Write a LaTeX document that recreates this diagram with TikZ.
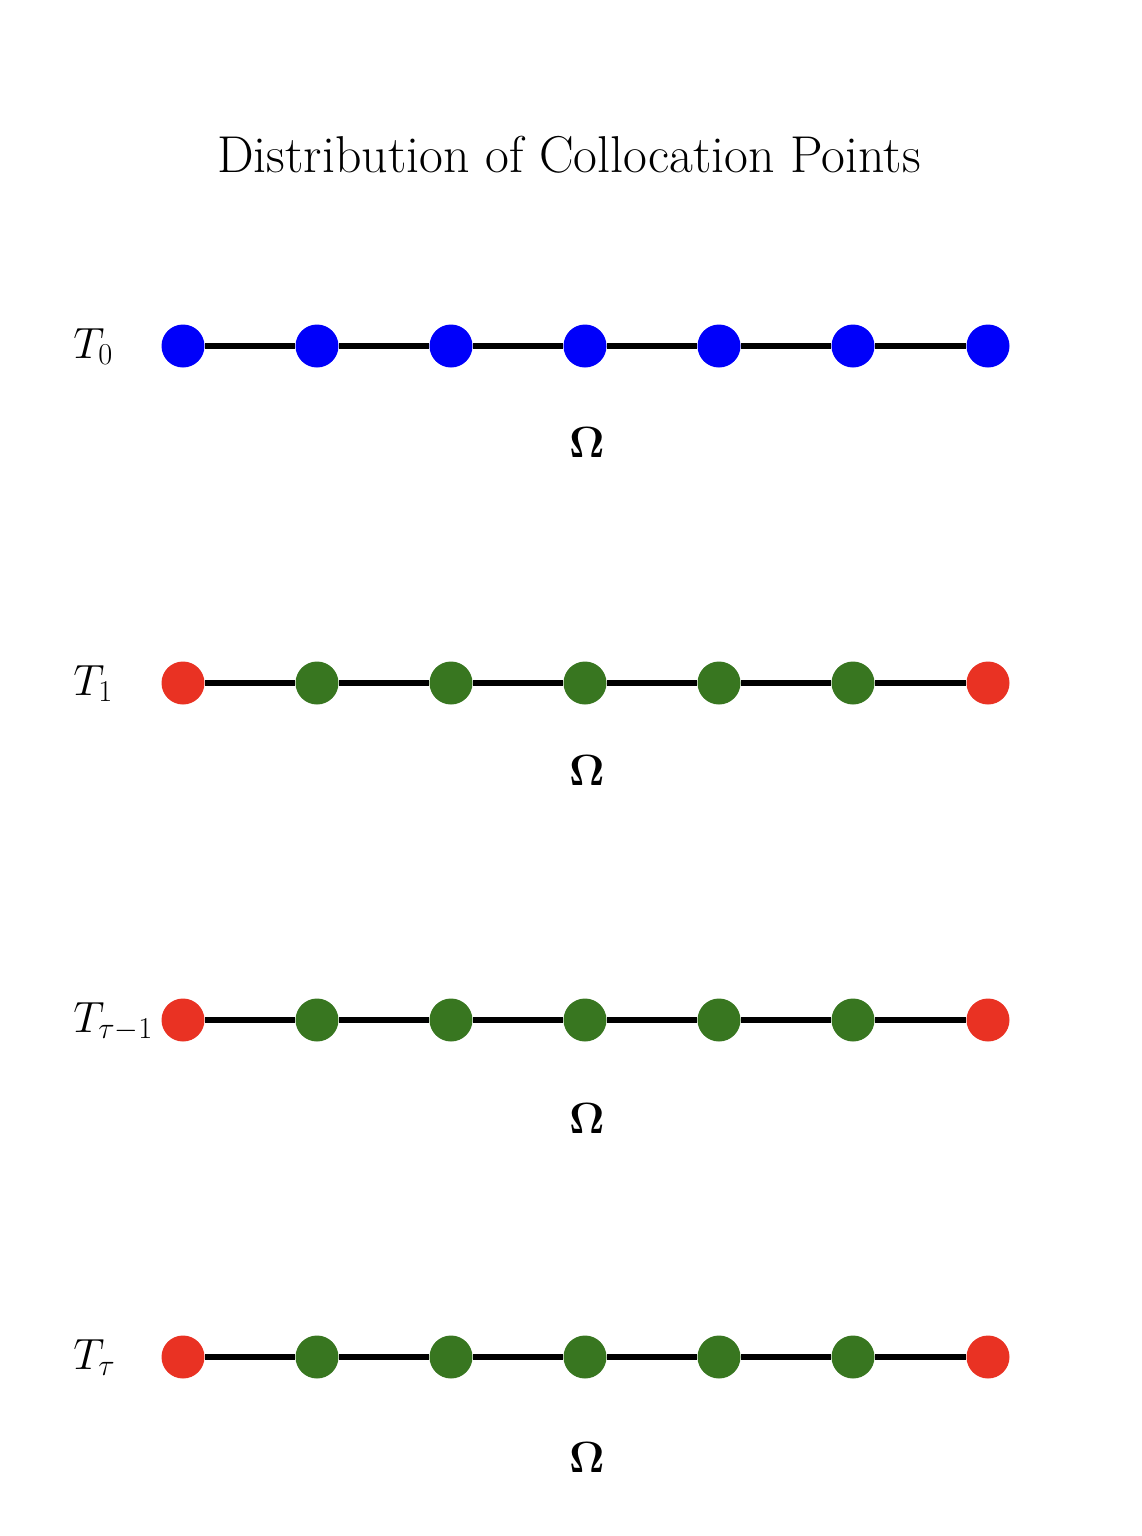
\documentclass[tikz,border=0pt]{standalone}
\usepackage{amsmath}
\usetikzlibrary{positioning}
\definecolor{dotBlue}{RGB}{0,0,250}
\definecolor{dotRed}{RGB}{233,50,35}
\definecolor{dotGreen}{RGB}{56,118,32}

\begin{document}
\begin{tikzpicture}[x=0.02cm, y=-0.02cm,
    pt/.style={circle, inner sep=0pt, minimum size=0.86cm},
    link/.style={line width=3.1pt, black},
    tlabel/.style={font=\fontsize{27}{32}\selectfont, anchor=base west, inner sep=0pt},
    omlabel/.style={font=\fontsize{25}{30}\selectfont, inner sep=0pt}]
  \useasboundingbox (0,0) rectangle (1142,1536);
  \node[font=\fontsize{29.5}{34}\selectfont] (title) at (569,155) {Distribution of Collocation Points};
  % one row per time level
  \foreach \r/\yy/\lab/\oy/\ends/\inner in {
      a/346/{T_0}/442/dotBlue/dotBlue,
      b/683/{T_1}/770/dotRed/dotGreen,
      c/1020/{T_{\tau-1}}/1118/dotRed/dotGreen,
      d/1357/{T_{\tau}}/1457/dotRed/dotGreen} {
    \node[tlabel] (lab-\r) at (73,\yy+12) {$\lab$};
    \node[pt, fill=\ends] (\r1) at (183,\yy) {};
    \foreach \i/\xx in {2/317,3/451,4/585,5/719,6/853}
      \node[pt, fill=\inner] (\r\i) at (\xx,\yy) {};
    \node[pt, fill=\ends] (\r7) at (988,\yy) {};
    \foreach \i [evaluate=\i as \j using int(\i+1)] in {1,...,6}
      \draw[link] (\r\i) -- (\r\j);
    \node[omlabel] (om-\r) at (587,\oy) {$\mathbf{\Omega}$};
  }
\end{tikzpicture}
\end{document}
